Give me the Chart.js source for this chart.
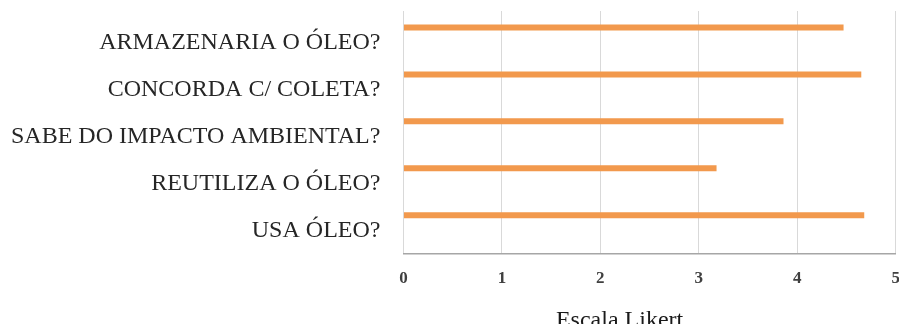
<!DOCTYPE html>
<html>
<head>
<meta charset="utf-8">
<script src="https://cdn.jsdelivr.net/npm/chart.js@4"></script>
<style>
html,body{margin:0;padding:0;background:#fff;overflow:hidden;width:899px;height:324px;}
#wrap{width:915px;height:324px;position:relative;}
</style>
</head>
<body>
<div id="wrap"><canvas id="c"></canvas></div>
<script>
const categories = ["ARMAZENARIA O ÓLEO?", "CONCORDA C/ COLETA?", "SABE DO IMPACTO AMBIENTAL?", "REUTILIZA O ÓLEO?", "USA ÓLEO?"];
const likertValues = [4.47, 4.65, 3.86, 3.18, 4.68];
const emptySeries = [null, null, null, null, null];
const xTicks = [0, 1, 2, 3, 4, 5];
const axisTitle = "Escala Likert";

new Chart(document.getElementById('c'), {
  type: 'bar',
  data: {
    labels: categories,
    datasets: [
      { label: 'Média', data: likertValues, backgroundColor: '#F2994D', borderWidth: 0 },
      { label: '', data: emptySeries, backgroundColor: 'rgba(0,0,0,0)', borderWidth: 0 }
    ]
  },
  options: {
    indexAxis: 'y',
    responsive: true,
    maintainAspectRatio: false,
    animation: false,
    categoryPercentage: 1.28,
    barPercentage: 0.2,
    layout: { padding: { top: 11, right: 0, bottom: 0, left: -12 } },
    plugins: { legend: { display: false }, tooltip: { enabled: false } },
    scales: {
      x: {
        min: 0, max: 5,
        afterBuildTicks: (s) => { s.ticks = xTicks.map(v => ({ value: v })); },
        grid: { color: '#d9d9d9', lineWidth: 1, drawTicks: false },
        border: { color: '#a6a6a6', width: 1.5 },
        ticks: { padding: 15, color: '#404040', font: { family: 'Liberation Serif', size: 17, weight: 'bold' } },
        title: { display: true, text: axisTitle + ' '.repeat(10), color: '#1a1a1a', padding: { top: 2, bottom: -11 },
                 font: { family: 'Liberation Serif', size: 24 } }
      },
      y: {
        grid: { display: false, drawTicks: false },
        border: { display: false },
        afterBuildTicks: (s) => {
          // leave a small empty strip above the first category, as in the source plot area
          s._startValue = -0.67;
          s._valueRange = categories.length + 0.17;
        },
        afterFit: (s) => { s.paddingTop = 0; s.paddingBottom = 0; },
        ticks: { padding: 23, color: '#262626', font: { family: 'Liberation Serif', size: 24 } }
      }
    }
  }
});
</script>
</body>
</html>
